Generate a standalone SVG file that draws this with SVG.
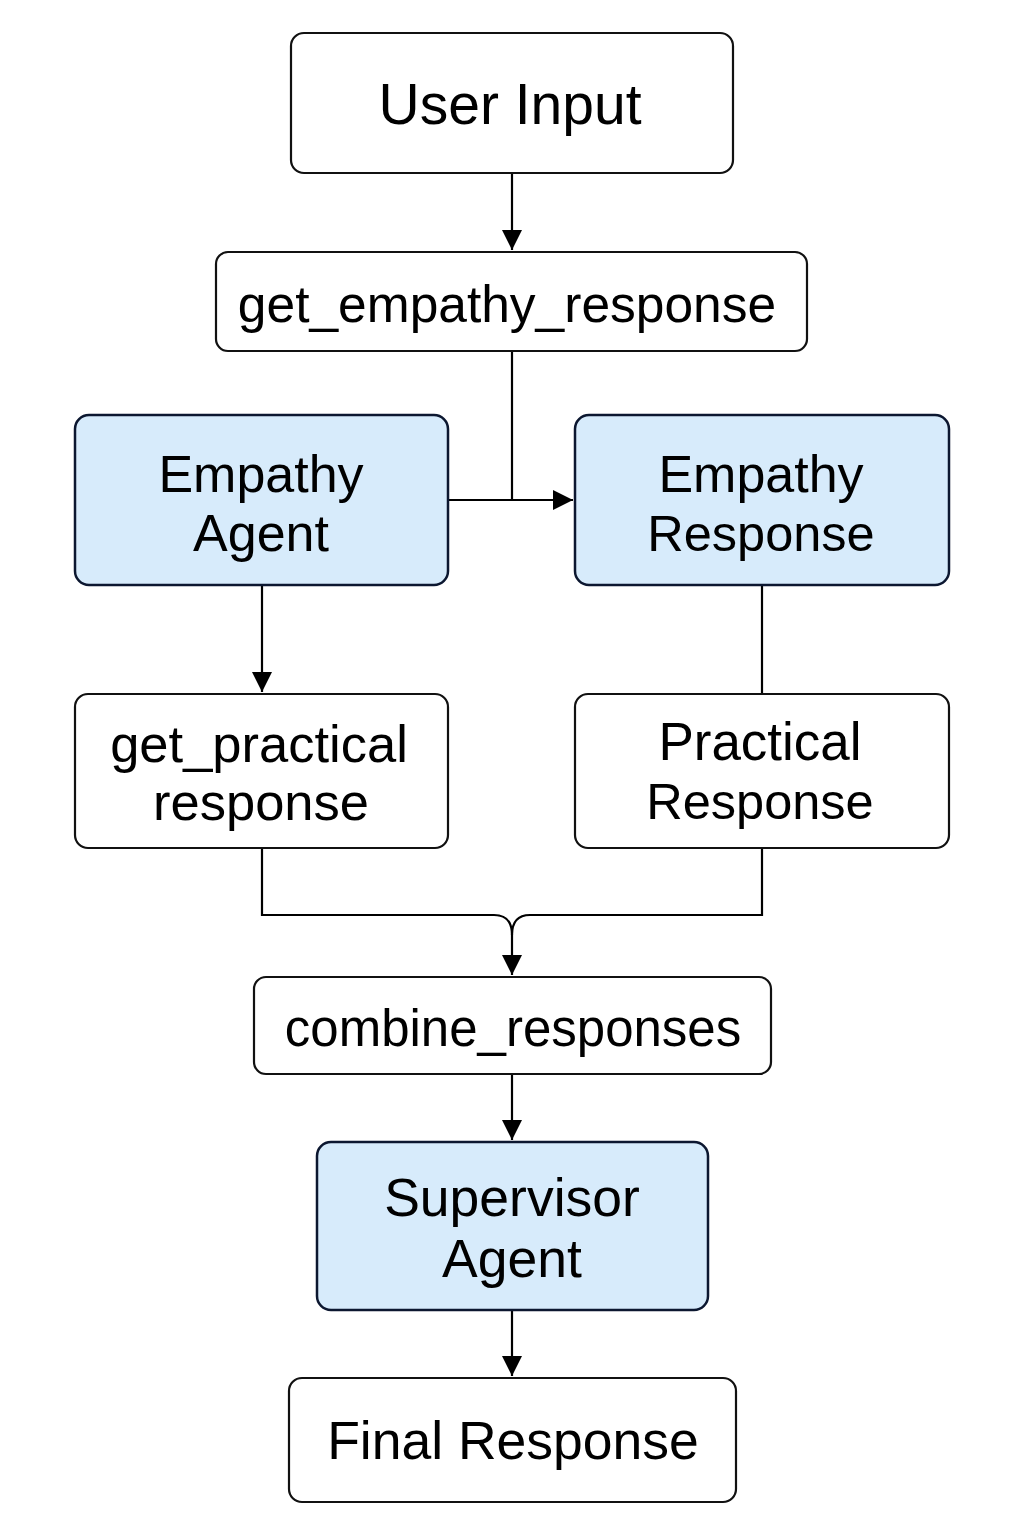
<svg xmlns="http://www.w3.org/2000/svg" width="1024" height="1536" viewBox="0 0 1024 1536">
<defs>
<marker id="arr" viewBox="0 0 20 20" refX="20" refY="10" markerWidth="20" markerHeight="20" markerUnits="userSpaceOnUse" orient="auto">
<path d="M0,0 L20,10 L0,20 Z" fill="#000"/>
</marker>
<style>
.box{fill:#fff;stroke:#111;stroke-width:2.2}
.blue{fill:#d7ebfb;stroke:#0c1730;stroke-width:2.5}
.t{font-family:"Liberation Sans",Arial,sans-serif;fill:#000;text-anchor:middle}
.c{fill:none;stroke:#000;stroke-width:2.2}
</style>
</defs>
<rect width="1024" height="1536" fill="#fff"/>
<g id="connectors">
<path class="c" d="M512,173 V250" marker-end="url(#arr)"/>
<path class="c" d="M512,351 V500"/>
<path class="c" d="M448,500 H573" marker-end="url(#arr)"/>
<path class="c" d="M262,586 V692" marker-end="url(#arr)"/>
<path class="c" d="M762,586 V694"/>
<path class="c" d="M262,848 V915 H494 Q512,915 512,935"/>
<path class="c" d="M762,848 V915 H530 Q512,915 512,935"/>
<path class="c" d="M512,935 V975" marker-end="url(#arr)"/>
<path class="c" d="M512,1074 V1140" marker-end="url(#arr)"/>
<path class="c" d="M512,1311 V1376" marker-end="url(#arr)"/>
</g>
<g id="user_input">
<rect class="box" x="291" y="33" width="442" height="140" rx="13"/>
<text class="t" x="510" y="124" font-size="57">User Input</text>
</g>
<g id="get_empathy_response">
<rect class="box" x="216" y="252" width="591" height="99" rx="12"/>
<text class="t" x="507" y="322" font-size="51.5">get_empathy_response</text>
</g>
<g id="empathy_agent">
<rect class="blue" x="75" y="415" width="373" height="170" rx="14"/>
<text class="t" x="261" y="492" font-size="52">Empathy</text>
<text class="t" x="261" y="551" font-size="52">Agent</text>
</g>
<g id="empathy_response">
<rect class="blue" x="575" y="415" width="374" height="170" rx="14"/>
<text class="t" x="761" y="492" font-size="52">Empathy</text>
<text class="t" x="761" y="551" font-size="50.5">Response</text>
</g>
<g id="get_practical_response">
<rect class="box" x="75" y="694" width="373" height="154" rx="13"/>
<text class="t" x="259" y="762" font-size="52.5">get_practical</text>
<text class="t" x="261" y="820" font-size="52.5">response</text>
</g>
<g id="practical_response">
<rect class="box" x="575" y="694" width="374" height="154" rx="13"/>
<text class="t" x="760" y="760" font-size="53">Practical</text>
<text class="t" x="760" y="819" font-size="50.5">Response</text>
</g>
<g id="combine_responses">
<rect class="box" x="254" y="977" width="517" height="97" rx="12"/>
<text class="t" x="513" y="1046" font-size="51">combine_responses</text>
</g>
<g id="supervisor_agent">
<rect class="blue" x="317" y="1142" width="391" height="168" rx="14"/>
<text class="t" x="512" y="1216" font-size="53.5">Supervisor</text>
<text class="t" x="512" y="1277" font-size="53.5">Agent</text>
</g>
<g id="final_response">
<rect class="box" x="289" y="1378" width="447" height="124" rx="13"/>
<text class="t" x="513" y="1459" font-size="53.5">Final Response</text>
</g>
</svg>
